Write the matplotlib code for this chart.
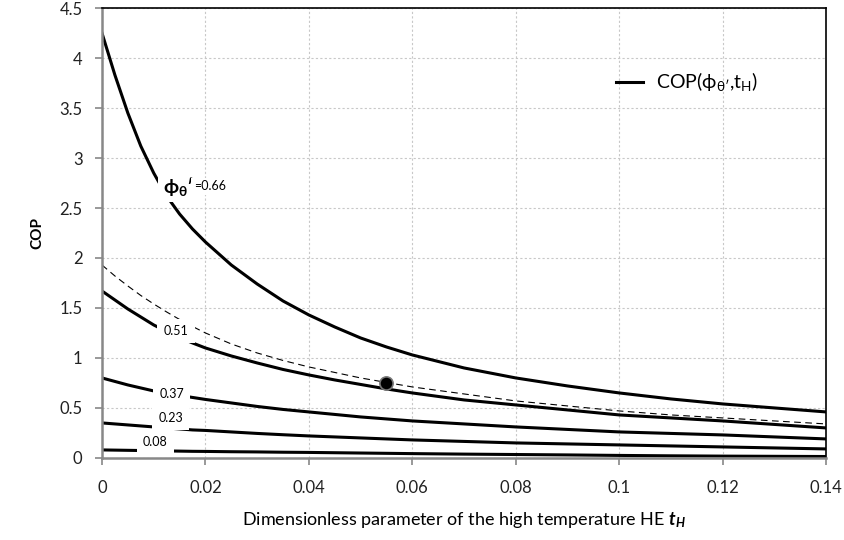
import numpy as np
import matplotlib
matplotlib.use('Agg')
import matplotlib.pyplot as plt

plt.rcParams['font.family'] = ['Lato', 'DejaVu Sans']
plt.rcParams['mathtext.fontset'] = 'custom'
plt.rcParams['mathtext.rm'] = 'Lato'
plt.rcParams['mathtext.it'] = 'Lato:italic'
plt.rcParams['mathtext.bf'] = 'Lato:bold'
plt.rcParams['mathtext.bfit'] = 'Lato:italic:bold'
plt.rcParams['mathtext.fallback'] = 'stixsans'

# Dimensionless parameter t_H
t_h = [0, 0.0025, 0.005, 0.0075, 0.01, 0.0125, 0.015, 0.0175, 0.02,
       0.025, 0.03, 0.035, 0.04, 0.045, 0.05, 0.055, 0.06,
       0.07, 0.08, 0.09, 0.10, 0.11, 0.12, 0.13, 0.14]

# COP curves for several phi_theta' values
cop_066 = [4.25, 3.83, 3.45, 3.12, 2.85, 2.62, 2.44, 2.29, 2.16,
           1.93, 1.74, 1.57, 1.43, 1.31, 1.20, 1.11, 1.03,
           0.90, 0.80, 0.72, 0.65, 0.59, 0.54, 0.50, 0.46]
cop_051 = [1.67, 1.58, 1.49, 1.41, 1.33, 1.265, 1.205, 1.15, 1.10,
           1.02, 0.95, 0.885, 0.83, 0.78, 0.735, 0.69, 0.65,
           0.58, 0.53, 0.48, 0.43, 0.40, 0.37, 0.335, 0.30]
cop_037 = [0.80, 0.765, 0.73, 0.70, 0.67, 0.645, 0.625, 0.605, 0.585,
           0.55, 0.515, 0.485, 0.46, 0.435, 0.41, 0.39, 0.37,
           0.34, 0.31, 0.285, 0.26, 0.245, 0.23, 0.21, 0.19]
cop_023 = [0.35, 0.34, 0.33, 0.32, 0.31, 0.30, 0.29, 0.28, 0.275,
           0.26, 0.245, 0.232, 0.22, 0.21, 0.20, 0.19, 0.18,
           0.165, 0.15, 0.14, 0.13, 0.12, 0.11, 0.10, 0.09]
cop_008 = [0.08, 0.078, 0.076, 0.074, 0.072, 0.070, 0.068, 0.066, 0.065,
           0.062, 0.06, 0.057, 0.055, 0.052, 0.049, 0.046, 0.043,
           0.038, 0.034, 0.03, 0.025, 0.021, 0.018, 0.016, 0.014]
# dashed reference curve
cop_dash = [1.93, 1.82, 1.72, 1.625, 1.54, 1.46, 1.385, 1.315, 1.25,
            1.14, 1.05, 0.975, 0.91, 0.855, 0.80, 0.755, 0.71,
            0.64, 0.57, 0.52, 0.47, 0.43, 0.40, 0.37, 0.34]

# marked point
pt_x, pt_y = 0.055, 0.745

# curve labels: (text, x, y)
curve_labels = [('0.51', 0.0143, 1.27), ('0.37', 0.0135, 0.64),
                ('0.23', 0.0133, 0.40), ('0.08', 0.0103, 0.155)]

xticks = [0, 0.02, 0.04, 0.06, 0.08, 0.1, 0.12, 0.14]
xtick_labels = ['0', '0.02', '0.04', '0.06', '0.08', '0.1', '0.12', '0.14']
yticks = [0, 0.5, 1, 1.5, 2, 2.5, 3, 3.5, 4, 4.5]
ytick_labels = ['0', '0.5', '1', '1.5', '2', '2.5', '3', '3.5', '4', '4.5']

fig = plt.figure(figsize=(8.45, 5.4), dpi=100)
ax = fig.add_axes([0.1207, 0.152, 0.857, 0.833])

ax.plot(t_h, cop_066, color='black', lw=2.2,
        label="COP($\\mathrm{\\phi}_{\\mathrm{\\theta\u2032}}$,t$_\\mathrm{H}$)")
for c in [cop_051, cop_037, cop_023, cop_008]:
    ax.plot(t_h, c, color='black', lw=2.2)
ax.plot(t_h, cop_dash, color='black', lw=0.8, dashes=(6, 4))
ax.plot(pt_x, pt_y, 'o', ms=9.5, mfc='black', mec='#777777', mew=1.2, zorder=5)

box = dict(boxstyle='square,pad=0.5', fc='white', ec='none')
for txt, x, y in curve_labels:
    ax.text(x, y, txt, fontsize=9, ha='center', va='center', bbox=box, zorder=4)

t1 = ax.text(0.0117, 2.72, "$\\mathbf{\\phi}_{\\mathbf{\\theta}}$\u2032", fontsize=14,
             fontweight='bold', ha='left', va='center', zorder=4,
             bbox=dict(boxstyle='square,pad=0.25', fc='white', ec='none'))
ax.annotate('=0.66', xy=(1, 0.5), xycoords=t1, xytext=(0, 0), textcoords='offset points',
            fontsize=9, ha='left', va='center', zorder=4,
            bbox=dict(boxstyle='square,pad=0.2', fc='white', ec='none'))

ax.set_xlim(0, 0.14)
ax.set_ylim(0, 4.5)
ax.set_xticks(xticks)
ax.set_xticklabels(xtick_labels)
ax.set_yticks(yticks)
ax.set_yticklabels(ytick_labels)
ax.tick_params(labelsize=12, colors='#222222', length=5, width=1.2)
ax.tick_params(axis='both', color='#888888')
ax.tick_params(axis='y', pad=9)
ax.tick_params(axis='x', pad=11)
ax.grid(True, color='#c8c8c8', lw=0.8, dashes=(2, 2))
ax.set_axisbelow(True)

for s in ['left', 'bottom']:
    ax.spines[s].set_color('#888888')
    ax.spines[s].set_linewidth(1.8)
for s in ['top', 'right']:
    ax.spines[s].set_color('black')
    ax.spines[s].set_linewidth(1.2)

ax.set_ylabel('COP', fontsize=11, fontweight='bold', labelpad=11)
ax.set_xlabel(r"Dimensionless parameter of the high temperature HE $\mathbfit{t}_{\mathbfit{H}}$",
              fontsize=13, labelpad=10)

ax.legend(loc='center left', bbox_to_anchor=(0.685, 0.836), frameon=False,
          fontsize=14, handlelength=1.4, handletextpad=0.7)

fig.savefig('out.png', dpi=100)
